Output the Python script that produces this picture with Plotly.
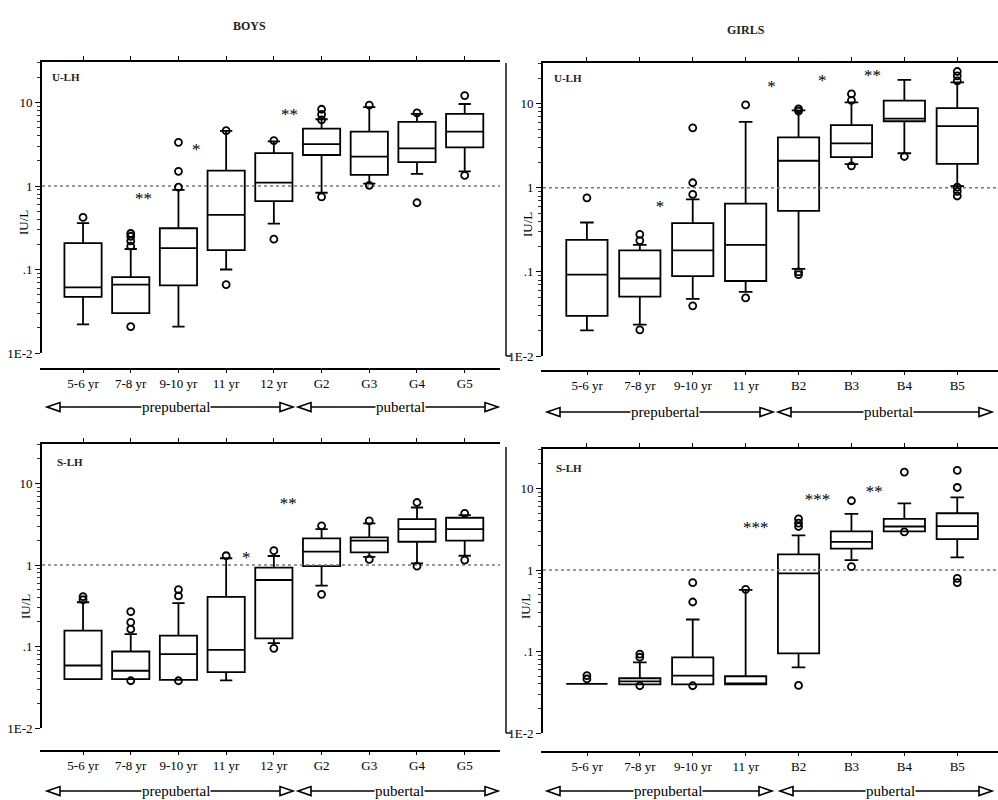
import plotly.graph_objects as go

# ---------------- data ----------------
boys_cats = ["5-6 yr", "7-8 yr", "9-10 yr", "11 yr", "12 yr", "G2", "G3", "G4", "G5"]
girls_cats = ["5-6 yr", "7-8 yr", "9-10 yr", "11 yr", "B2", "B3", "B4", "B5"]

# Boys U-LH
b_ulh_lo = [0.022, 0.030, 0.0207, 0.10, 0.355, 0.83, 1.07, 1.40, 1.50]
b_ulh_q1 = [0.047, 0.030, 0.0646, 0.171, 0.66, 2.35, 1.36, 1.93, 2.90]
b_ulh_med = [0.061, 0.066, 0.18, 0.45, 1.10, 3.18, 2.25, 2.82, 4.49]
b_ulh_q3 = [0.207, 0.081, 0.312, 1.53, 2.48, 4.87, 4.49, 5.85, 7.30]
b_ulh_hi = [0.36, 0.176, 0.90, 4.57, 3.42, 6.30, 8.80, 7.30, 9.60]
b_ulh_out_x = [0, 1, 1, 1, 1, 1, 2, 2, 2, 3, 3, 4, 4, 5, 5, 5, 5, 6, 6, 7, 7, 8, 8]
b_ulh_out_y = [0.42, 0.27, 0.25, 0.22, 0.19, 0.0207, 3.33, 1.5, 0.97, 4.6, 0.066,
               3.5, 0.231, 8.3, 7.2, 6.2, 0.74, 9.3, 1.02, 7.5, 0.63, 12.1, 1.34]
b_ulh_sig_x = [1.27, 2.375, 4.33]
b_ulh_sig_y = [0.68, 2.65, 7.0]
b_ulh_sig = ["**", "*", "**"]

# Girls U-LH
g_ulh_lo = [0.0202, 0.0236, 0.0478, 0.058, 0.109, 1.92, 2.58, 1.05]
g_ulh_q1 = [0.030, 0.0508, 0.089, 0.078, 0.531, 2.32, 6.2, 1.93]
g_ulh_med = [0.093, 0.0835, 0.18, 0.21, 2.1, 3.38, 6.66, 5.41]
g_ulh_q3 = [0.24, 0.18, 0.38, 0.65, 3.98, 5.56, 10.9, 8.9]
g_ulh_hi = [0.387, 0.21, 0.73, 6.1, 8.35, 10.4, 19.2, 18.0]
g_ulh_out_x = [0, 1, 1, 1, 2, 2, 2, 2, 3, 3, 4, 4, 4, 4, 5, 5, 5, 6, 7, 7, 7, 7, 7, 7]
g_ulh_out_y = [0.76, 0.28, 0.236, 0.0205, 5.17, 1.15, 0.835, 0.0395, 9.7, 0.049,
               8.7, 8.2, 0.10, 0.093, 13.1, 11.0, 1.83, 2.36, 24.2, 21.5, 18.7, 1.02, 0.91, 0.80]
g_ulh_sig_x = [1.38, 3.49, 4.45, 5.4]
g_ulh_sig_y = [0.58, 15.4, 18.5, 21.0]
g_ulh_sig = ["*", "*", "*", "**"]

# Boys S-LH
b_slh_lo = [0.0398, 0.0398, 0.039, 0.0383, 0.11, 0.558, 1.26, 1.05, 1.30]
b_slh_q1 = [0.0398, 0.0398, 0.039, 0.0485, 0.126, 0.97, 1.43, 1.93, 1.99]
b_slh_med = [0.0585, 0.0504, 0.0805, 0.091, 0.655, 1.46, 1.99, 2.76, 2.76]
b_slh_q3 = [0.157, 0.0868, 0.136, 0.406, 0.93, 2.12, 2.18, 3.66, 3.80]
b_slh_hi = [0.349, 0.142, 0.34, 1.21, 1.29, 2.76, 3.24, 5.08, 4.10]
b_slh_out_x = [0, 0, 1, 1, 1, 1, 2, 2, 2, 3, 4, 4, 5, 5, 6, 6, 7, 7, 8, 8]
b_slh_out_y = [0.41, 0.375, 0.268, 0.198, 0.163, 0.038, 0.50, 0.417, 0.038, 1.3,
               1.5, 0.095, 3.03, 0.437, 3.49, 1.17, 5.85, 0.97, 4.3, 1.15]
b_slh_sig_x = [3.42, 4.3]
b_slh_sig_y = [1.21, 5.43]
b_slh_sig = ["*", "**"]

# Girls S-LH
g_slh_lo = [0.040, 0.0394, 0.0394, 0.0394, 0.064, 1.32, 2.98, 1.43]
g_slh_q1 = [0.040, 0.0394, 0.0394, 0.0394, 0.0946, 1.83, 2.98, 2.40]
g_slh_med = [0.040, 0.043, 0.0506, 0.0397, 0.91, 2.21, 3.42, 3.45]
g_slh_q3 = [0.040, 0.047, 0.0846, 0.0497, 1.56, 2.98, 4.24, 4.97]
g_slh_hi = [0.040, 0.0735, 0.247, 0.572, 2.66, 4.88, 6.57, 7.78]
g_slh_out_x = [0, 0, 1, 1, 1, 2, 2, 2, 3, 4, 4, 4, 4, 5, 5, 6, 6, 7, 7, 7, 7]
g_slh_out_y = [0.0506, 0.046, 0.093, 0.085, 0.038, 0.70, 0.405, 0.038, 0.58,
               4.24, 3.76, 3.42, 0.0383, 7.08, 1.1, 15.9, 2.93, 16.7, 10.3, 0.79, 0.70]
g_slh_sig_x = [3.19, 4.36, 5.43]
g_slh_sig_y = [3.2, 7.08, 8.9]
g_slh_sig = ["***", "***", "**"]

REF_LEVEL = 1.0
y_tickvals = [0.01, 0.1, 1, 10]
y_ticktext = ["1E-2", ".1", "1", "10"]
minor_vals = [m * d for d in (0.01, 0.1, 1, 10) for m in range(2, 10) if m * d < 31]

# ---------------- layout helpers ----------------
W, H = 998, 800
FONT = "Liberation Serif"
INK = "#000000"


def fx(x):
    return x / W


def fy(y):
    return 1 - y / H


panels = [
    dict(lbl="U-LH", cats=boys_cats, lo=b_ulh_lo, q1=b_ulh_q1, med=b_ulh_med, q3=b_ulh_q3, hi=b_ulh_hi,
         ox=b_ulh_out_x, oy=b_ulh_out_y, sx=b_ulh_sig_x, sy=b_ulh_sig_y, st=b_ulh_sig,
         xpx=(42, 500), ypx=(353, 62), bline=368, xr=[-0.86, 8.74], lblpos=(50, 77)),
    dict(lbl="U-LH", cats=girls_cats, lo=g_ulh_lo, q1=g_ulh_q1, med=g_ulh_med, q3=g_ulh_q3, hi=g_ulh_hi,
         ox=g_ulh_out_x, oy=g_ulh_out_y, sx=g_ulh_sig_x, sy=g_ulh_sig_y, st=g_ulh_sig,
         xpx=(543, 998), ypx=(356, 63), bline=370, xr=[-0.83, 7.77], lblpos=(552, 78)),
    dict(lbl="S-LH", cats=boys_cats, lo=b_slh_lo, q1=b_slh_q1, med=b_slh_med, q3=b_slh_q3, hi=b_slh_hi,
         ox=b_slh_out_x, oy=b_slh_out_y, sx=b_slh_sig_x, sy=b_slh_sig_y, st=b_slh_sig,
         xpx=(42, 500), ypx=(728, 444), bline=750, xr=[-0.86, 8.74], lblpos=(55, 462)),
    dict(lbl="S-LH", cats=girls_cats, lo=g_slh_lo, q1=g_slh_q1, med=g_slh_med, q3=g_slh_q3, hi=g_slh_hi,
         ox=g_slh_out_x, oy=g_slh_out_y, sx=g_slh_sig_x, sy=g_slh_sig_y, st=g_slh_sig,
         xpx=(543, 998), ypx=(733, 449), bline=751, xr=[-0.83, 7.77], lblpos=(554, 468)),
]

fig = go.Figure()
layout = dict(
    template="none",
    width=W, height=H, margin=dict(l=0, r=0, t=0, b=0),
    paper_bgcolor="white", plot_bgcolor="rgba(0,0,0,0)", showlegend=False,
    font=dict(family=FONT, color=INK, size=12),
)
annotations = []
shapes = []

for i, p in enumerate(panels):
    n = i + 1
    xa = "x" if n == 1 else f"x{n}"
    ya = "y" if n == 1 else f"y{n}"
    xb, yb = f"x{n + 4}", f"y{n + 4}"
    idx = list(range(len(p["cats"])))

    # reference line at 1 IU/L
    fig.add_trace(go.Scatter(x=p["xr"], y=[REF_LEVEL, REF_LEVEL], mode="lines",
                             line=dict(color="#777", width=1.5, dash="dot"),
                             xaxis=xa, yaxis=ya, hoverinfo="skip"))
    # boxes
    fig.add_trace(go.Box(x=idx, q1=p["q1"], median=p["med"], q3=p["q3"],
                         lowerfence=p["lo"], upperfence=p["hi"],
                         width=0.78, whiskerwidth=0.33,
                         line=dict(color="black", width=1.8), fillcolor="rgba(255,255,255,0)",
                         boxpoints=False, xaxis=xa, yaxis=ya, hoverinfo="skip"))
    # outliers
    fig.add_trace(go.Scatter(x=p["ox"], y=p["oy"], mode="markers",
                             marker=dict(symbol="circle-open", size=7, color="black",
                                         line=dict(width=1.8, color="black")),
                             xaxis=xa, yaxis=ya, hoverinfo="skip"))
    # significance stars
    fig.add_trace(go.Scatter(x=p["sx"], y=p["sy"], mode="text", text=p["st"],
                             textfont=dict(size=17, color="#000000", family=FONT),
                             xaxis=xa, yaxis=ya, hoverinfo="skip"))
    # invisible trace on the thin bottom category-axis subplot
    fig.add_trace(go.Scatter(x=[idx[0]], y=[REF_LEVEL], mode="markers", marker=dict(opacity=0),
                             xaxis=xb, yaxis=yb, hoverinfo="skip"))

    xdom = [fx(p["xpx"][0]), fx(p["xpx"][1])]
    ydom = [fy(p["ypx"][0]), fy(p["ypx"][1])]
    layout["xaxis" if n == 1 else f"xaxis{n}"] = dict(
        domain=xdom, range=p["xr"], anchor=ya, side="top", showline=True, linecolor="black",
        linewidth=1.7, ticks="outside", ticklen=4, tickwidth=1.3, tickcolor="black", tickvals=idx,
        showticklabels=False, showgrid=False, zeroline=False, fixedrange=True)
    layout["yaxis" if n == 1 else f"yaxis{n}"] = dict(
        domain=ydom, type="log", range=[-2, 1.485], anchor=xa, showline=True, linecolor="black",
        linewidth=1.7, ticks="outside", ticklen=5, tickwidth=1.3, tickcolor="black",
        tickvals=y_tickvals, ticktext=y_ticktext, showgrid=False, zeroline=False,
        tickfont=dict(size=13, family=FONT, color=INK),
        minor=dict(ticks="outside", ticklen=3, tickcolor="#333", tickvals=minor_vals, showgrid=False),
        fixedrange=True)
    # thin subplot carrying the category axis below the panel
    yb0 = fy(p["bline"])
    layout[f"xaxis{n + 4}"] = dict(
        domain=[xdom[0] - fx(2), xdom[1]], range=[p["xr"][0] - 2 / 47.7, p["xr"][1]],
        anchor=yb, side="bottom",
        showline=True, linecolor="black", linewidth=1.7, ticks="outside", ticklen=3, tickwidth=1.3,
        tickcolor="black", tickvals=idx, ticktext=p["cats"], showgrid=False, zeroline=False,
        tickfont=dict(size=13, family=FONT, color=INK), fixedrange=True)
    layout[f"yaxis{n + 4}"] = dict(
        domain=[yb0, yb0 + 0.002], anchor=xb, visible=False, range=[0, 1], fixedrange=True)

    # panel label
    annotations.append(dict(x=fx(p["lblpos"][0]), y=fy(p["lblpos"][1]), xref="paper", yref="paper",
                            text=f"<b>{p['lbl']}</b>", showarrow=False, xanchor="left",
                            yanchor="middle", font=dict(size=11, family=FONT, color="#222")))

# y-axis titles
for (x, y) in [(23, 223), (527, 225), (25, 607), (525, 607)]:
    annotations.append(dict(x=fx(x), y=fy(y), xref="paper", yref="paper", text="IU/L",
                            textangle=-90, showarrow=False, xanchor="center", yanchor="middle",
                            font=dict(size=13, family=FONT, color=INK)))

# column titles
annotations.append(dict(x=fx(249), y=fy(26), xref="paper", yref="paper", text="<b>BOYS</b>",
                        showarrow=False, xanchor="center", yanchor="middle",
                        font=dict(size=12, family=FONT, color="#222")))
annotations.append(dict(x=fx(746), y=fy(30), xref="paper", yref="paper", text="<b>GIRLS</b>",
                        showarrow=False, xanchor="center", yanchor="middle",
                        font=dict(size=12, family=FONT, color="#222")))

# stage arrows
arrow_rows = [
    dict(y=407, tips=(47, 293, 298, 498), tx=(176, 400)),
    dict(y=412, tips=(547, 773, 778, 992), tx=(665, 888)),
    dict(y=791, tips=(47, 293, 298, 498), tx=(176, 399)),
    dict(y=791, tips=(547, 772, 780, 992), tx=(668, 890)),
]
TW, TH = 13, 4.5


def tri(xt, y, direction):
    if direction == "left":
        pts = [(xt, y), (xt + TW, y - TH), (xt + TW, y + TH)]
    else:
        pts = [(xt, y), (xt - TW, y - TH), (xt - TW, y + TH)]
    path = "M " + " L ".join(f"{fx(a):.5f},{fy(b):.5f}" for a, b in pts) + " Z"
    return dict(type="path", path=path, xref="paper", yref="paper",
                line=dict(color="black", width=1.6), fillcolor="white")


for r in arrow_rows:
    y = r["y"]
    a, b, c, d = r["tips"]
    shapes.append(dict(type="line", xref="paper", yref="paper", x0=fx(a + TW), x1=fx(b - TW),
                       y0=fy(y), y1=fy(y), line=dict(color="black", width=1.3)))
    shapes.append(dict(type="line", xref="paper", yref="paper", x0=fx(c + TW), x1=fx(d - TW),
                       y0=fy(y), y1=fy(y), line=dict(color="black", width=1.3)))
    shapes.append(tri(a, y, "left"))
    shapes.append(tri(b, y, "right"))
    shapes.append(tri(c, y, "left"))
    shapes.append(tri(d, y, "right"))
    for t, txt in zip(r["tx"], ["prepubertal", "pubertal"]):
        annotations.append(dict(x=fx(t), y=fy(y), xref="paper", yref="paper", text=txt,
                                showarrow=False, bgcolor="white", borderpad=0,
                                xanchor="center", yanchor="middle",
                                font=dict(size=15, family=FONT, color=INK)))

# extra outer axis line on the girls panels (as in the scan)
for (y0, y1) in [(63, 356), (447, 733)]:
    shapes.append(dict(type="line", xref="paper", yref="paper", x0=fx(506), x1=fx(506),
                       y0=fy(y0), y1=fy(y1), line=dict(color="black", width=1.4)))
    shapes.append(dict(type="line", xref="paper", yref="paper", x0=fx(506), x1=fx(511),
                       y0=fy(y1), y1=fy(y1), line=dict(color="black", width=1.4)))

layout["annotations"] = annotations
layout["shapes"] = shapes
fig.update_layout(**layout)
fig.write_html("out.html", config={"displayModeBar": False},
               post_script="document.body.style.margin='0px';")
